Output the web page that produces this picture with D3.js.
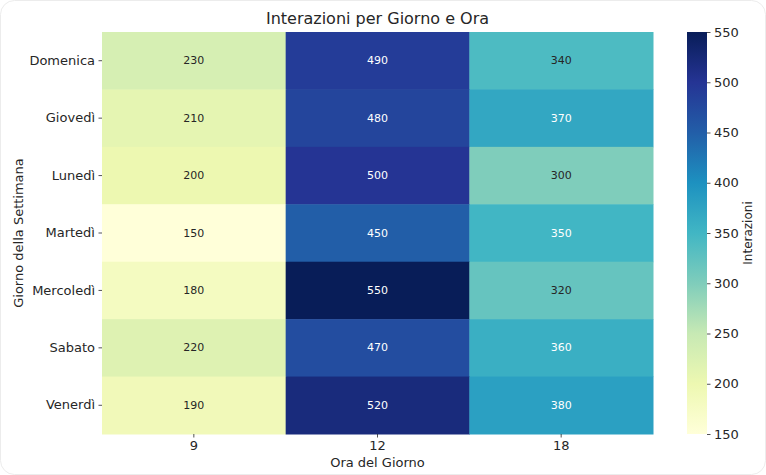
<!DOCTYPE html>
<html>
<head>
<meta charset="utf-8">
<script src="https://cdn.jsdelivr.net/npm/d3@7"></script>
<style>
  body { margin: 0; background: #fff; }
  text { font-family: "DejaVu Sans", sans-serif; fill: #262626; }
</style>
</head>
<body>
<div id="container"></div>
<script>
const WIDTH = 766;
const HEIGHT = 475;

const days = ["Domenica", "Giovedì", "Lunedì", "Martedì", "Mercoledì", "Sabato", "Venerdì"];
const hours = ["9", "12", "18"];
const values = [
  [230, 490, 340],
  [210, 480, 370],
  [200, 500, 300],
  [150, 450, 350],
  [180, 550, 320],
  [220, 470, 360],
  [190, 520, 380],
];
const colorTicks = [150, 200, 250, 300, 350, 400, 450, 500, 550];

// YlGnBu as matplotlib builds it: linear between the 9 brewer colours
const ylGnBu = ["#ffffd9", "#edf8b1", "#c7e9b4", "#7fcdbb", "#41b6c4", "#1d91c0", "#225ea8", "#253494", "#081d58"];
const VMIN = 150, VMAX = 550;
const color = d3
  .scaleLinear()
  .domain(ylGnBu.map((_, i) => VMIN + (i * (VMAX - VMIN)) / (ylGnBu.length - 1)))
  .range(ylGnBu)
  .clamp(true);

const plot = { left: 102, right: 653, top: 32, bottom: 434 };
const bar = { left: 687, right: 707 };

const svg = d3
  .select("#container")
  .append("svg")
  .attr("width", WIDTH)
  .attr("height", HEIGHT);

svg
  .append("rect")
  .attr("x", 0.5)
  .attr("y", 0.5)
  .attr("width", WIDTH - 1)
  .attr("height", HEIGHT - 1)
  .attr("rx", 14)
  .attr("fill", "none")
  .attr("stroke", "#ececec");

const x = d3.scaleBand().domain(hours).range([plot.left, plot.right]);
const y = d3.scaleBand().domain(days).range([plot.top, plot.bottom]);

const cells = [];
days.forEach((d, i) => hours.forEach((h, j) => cells.push({ day: d, hour: h, value: values[i][j] })));

svg
  .append("g")
  .selectAll("rect")
  .data(cells)
  .join("rect")
  .attr("x", (d) => x(d.hour))
  .attr("y", (d) => y(d.day))
  .attr("width", x.bandwidth() + 0.5)
  .attr("height", y.bandwidth() + 0.5)
  .attr("fill", (d) => color(d.value));

const luminance = (c) => {
  const rgb = d3.rgb(c);
  const lin = (v) => {
    v /= 255;
    return v <= 0.03928 ? v / 12.92 : Math.pow((v + 0.055) / 1.055, 2.4);
  };
  return 0.2126 * lin(rgb.r) + 0.7152 * lin(rgb.g) + 0.0722 * lin(rgb.b);
};

svg
  .append("g")
  .selectAll("text")
  .data(cells)
  .join("text")
  .attr("x", (d) => x(d.hour) + x.bandwidth() / 2)
  .attr("y", (d) => y(d.day) + y.bandwidth() / 2)
  .attr("text-anchor", "middle")
  .attr("dominant-baseline", "central")
  .style("font-size", "11px")
  .style("fill", (d) => (luminance(color(d.value)) > 0.408 ? "#262626" : "#ffffff"))
  .text((d) => d.value);

const xAxis = svg
  .append("g")
  .attr("transform", `translate(0, ${plot.bottom})`)
  .call(d3.axisBottom(x).tickSize(3.5).tickPadding(3.5));
const yAxis = svg
  .append("g")
  .attr("transform", `translate(${plot.left}, 0)`)
  .call(d3.axisLeft(y).tickSize(3.5).tickPadding(3.5));

[xAxis, yAxis].forEach((g) => {
  g.select(".domain").remove();
  g.selectAll(".tick line").attr("stroke", "#262626").attr("stroke-width", 0.8);
  g.selectAll(".tick text").style("font-size", "13px").style("fill", "#262626");
});

svg
  .append("text")
  .attr("x", (plot.left + plot.right) / 2)
  .attr("y", 24)
  .attr("text-anchor", "middle")
  .style("font-size", "16px")
  .text("Interazioni per Giorno e Ora");

svg
  .append("text")
  .attr("x", (plot.left + plot.right) / 2)
  .attr("y", 467)
  .attr("text-anchor", "middle")
  .style("font-size", "13px")
  .text("Ora del Giorno");

svg
  .append("text")
  .attr("transform", `translate(23, ${(plot.top + plot.bottom) / 2}) rotate(-90)`)
  .attr("text-anchor", "middle")
  .style("font-size", "13px")
  .text("Giorno della Settimana");

// colour bar
const cScale = d3.scaleLinear().domain([VMIN, VMAX]).range([plot.bottom, plot.top]);
const grad = svg
  .append("defs")
  .append("linearGradient")
  .attr("id", "cbar")
  .attr("x1", 0)
  .attr("y1", 1)
  .attr("x2", 0)
  .attr("y2", 0);
grad
  .selectAll("stop")
  .data(ylGnBu)
  .join("stop")
  .attr("offset", (_, i) => i / (ylGnBu.length - 1))
  .attr("stop-color", (d) => d);

svg
  .append("rect")
  .attr("x", bar.left)
  .attr("y", plot.top)
  .attr("width", bar.right - bar.left)
  .attr("height", plot.bottom - plot.top)
  .attr("fill", "url(#cbar)");

const cAxis = svg
  .append("g")
  .attr("transform", `translate(${bar.right}, 0)`)
  .call(d3.axisRight(cScale).tickValues(colorTicks).tickSize(3.5).tickPadding(3.5));
cAxis.select(".domain").remove();
cAxis.selectAll(".tick line").attr("stroke", "#262626").attr("stroke-width", 0.8);
cAxis.selectAll(".tick text").style("font-size", "13px").style("fill", "#262626");

svg
  .append("text")
  .attr("transform", `translate(752, ${(plot.top + plot.bottom) / 2}) rotate(-90)`)
  .attr("text-anchor", "middle")
  .style("font-size", "12px")
  .text("Interazioni");
</script>
</body>
</html>
